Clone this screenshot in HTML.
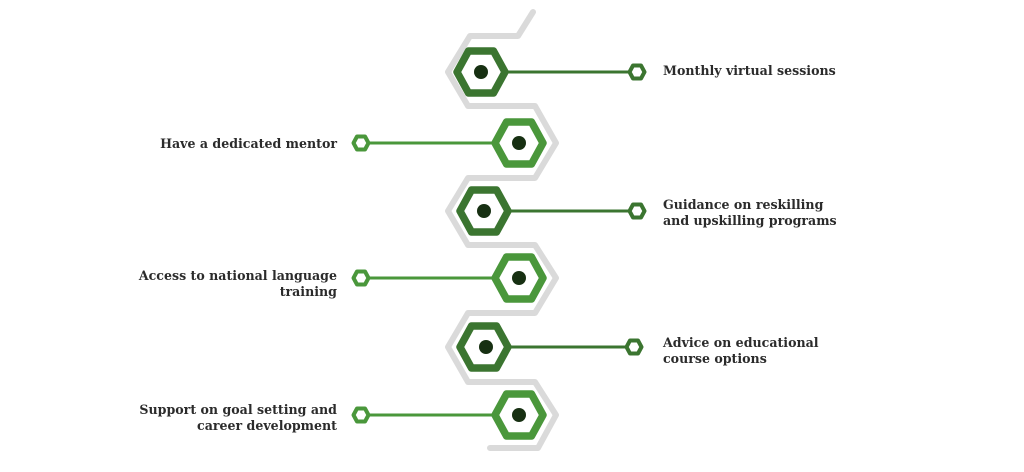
<!DOCTYPE html>
<html><head><style>
html,body{margin:0;padding:0;background:#fff;}
svg{display:block}
text{font-family:"DejaVu Serif","Liberation Serif",serif;font-weight:bold;font-size:12.6px;fill:#2b2b2b;}
</style></head><body>
<svg width="1024" height="472" viewBox="0 0 1024 472">
<defs>
<g id="hex"><polygon points="-24,0 -12.5,-21 12.5,-21 24,0 12.5,21 -12.5,21" fill="#fff" stroke-width="7.5" stroke-linejoin="round"/></g>
<g id="sm"><polygon points="-7.5,0 -4,-6.5 4,-6.5 7.5,0 4,6.5 -4,6.5" fill="#fff" stroke-width="4" stroke-linejoin="round"/></g>
</defs>
<polyline fill="none" stroke="#dadada" stroke-width="6" stroke-linecap="round" stroke-linejoin="round"
 points="533,12 518,36 470,36 448,72 468,106 535,106 556,143 535,178 468,178 448,211 468,245 535,245 556,278 535,313 468,313 448,347 468,382 535,382 556,415 538,448 490,448"/>
<g stroke="#3b7530" fill="#3b7530">
 <line x1="500" y1="72" x2="630" y2="72" stroke-width="3"/>
 <line x1="500" y1="211" x2="630" y2="211" stroke-width="3"/>
 <line x1="500" y1="347" x2="630" y2="347" stroke-width="3"/>
 <use href="#hex" x="481" y="72"/><use href="#hex" x="484" y="211"/><use href="#hex" x="484" y="347"/>
 <use href="#sm" x="637" y="72"/><use href="#sm" x="637" y="211"/><use href="#sm" x="634" y="347"/>
</g>
<g stroke="#4a973b" fill="#4a973b">
 <line x1="368" y1="143" x2="500" y2="143" stroke-width="3"/>
 <line x1="368" y1="278" x2="500" y2="278" stroke-width="3"/>
 <line x1="368" y1="415" x2="500" y2="415" stroke-width="3"/>
 <use href="#hex" x="519" y="143"/><use href="#hex" x="519" y="278"/><use href="#hex" x="519" y="415"/>
 <use href="#sm" x="361" y="143"/><use href="#sm" x="361" y="278"/><use href="#sm" x="361" y="415"/>
</g>
<g fill="#173012">
 <circle cx="481" cy="72" r="7"/><circle cx="484" cy="211" r="7"/><circle cx="486" cy="347" r="7"/>
 <circle cx="519" cy="143" r="7"/><circle cx="519" cy="278" r="7"/><circle cx="519" cy="415" r="7"/>
</g>
<text x="663" y="75">Monthly virtual sessions</text>
<text x="663" y="209">Guidance on reskilling</text>
<text x="663" y="225">and upskilling programs</text>
<text x="663" y="347">Advice on educational</text>
<text x="663" y="363">course options</text>
<g text-anchor="end">
<text x="337" y="148">Have a dedicated mentor</text>
<text x="337" y="280">Access to national language</text>
<text x="337" y="296">training</text>
<text x="337" y="414">Support on goal setting and</text>
<text x="337" y="430">career development</text>
</g>
</svg>
</body></html>
